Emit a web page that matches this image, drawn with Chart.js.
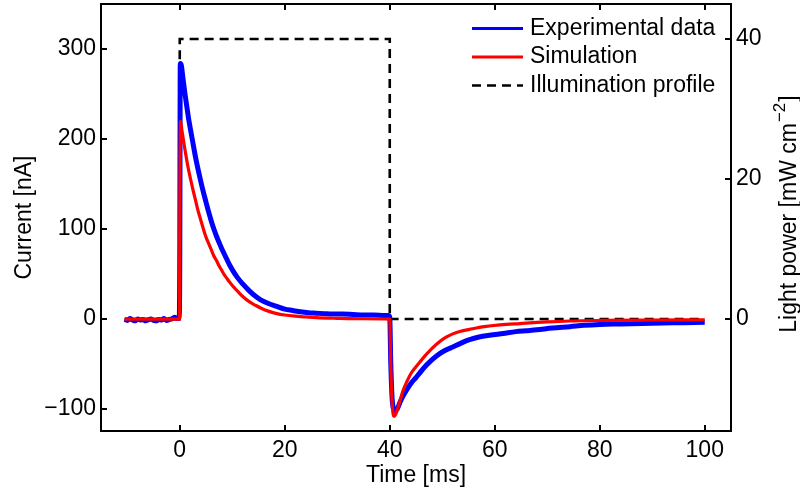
<!DOCTYPE html>
<html><head><meta charset="utf-8">
<script src="https://cdn.jsdelivr.net/npm/chart.js@4.4.0/dist/chart.umd.min.js"></script>
<style>html,body{margin:0;padding:0;background:#fff;}#wrap{width:800px;height:493px;position:relative;}</style>
</head><body><div id="wrap"><canvas id="c" width="800" height="493"></canvas></div>
<script>
// ---- data ----
const expTime = [-10.5,-10,-9.5,-9,-8.5,-8,-7.5,-7,-6.5,-6,-5.5,-5,-4.5,-4,-3.5,-3,-2.5,-2,-1.5,-1,-0.5,-0.1,
  0,0.1,0.3,0.6,1,1.3,1.7,2,2.5,3,3.5,4,4.5,5,5.5,6,6.5,7,7.5,8,8.5,9,9.5,10.2,11,12,13.3,14.5,15.5,17,18.5,20,
  21.5,23,24.5,26,27.5,29,31,33,35,37,39,39.8,
  40,40.2,40.5,41,41.5,42,42.5,43.3,44.1,45,45.7,47,48.9,50.5,52,53.5,55.2,57,59,61.6,64,66,68,71,74.3,77,80,84,88,92,96,100];
const expCurrent = [-0.5,-1.5,0.5,-1,-2,0,-1,-0.5,-2,-1,0,-1.5,-2,-0.5,-1,0.5,-1.5,-0.5,0,2,0.5,1,
  60,284,282,268,250,238,222,212,196,180,166,153,141,130,119,109,100,92,85,78,72,66,60,53,46,39,31,25,21,17,14,11,
  9.5,8,7,6.5,6,5.5,5.5,5,4.5,4.5,4,4,
  2,-50,-92,-102,-99,-92,-86,-78,-71,-65,-60,-51,-41,-35,-31,-27,-23,-20,-18,-16,-14,-13,-12,-10,-8.5,-7,-6,-5.5,-5,-4.5,-4,-3.5];
const simTime = [-10.5,-0.05,0,0.15,0.4,0.8,1.2,1.6,2,2.5,3,3.5,4,4.5,5,5.5,6,6.5,7,7.5,8,8.5,9,9.5,10.2,11,12,13.3,
  14.5,15.5,17,18.5,20,22,24,26,30,35,40,
  40.2,40.5,40.8,41.2,41.8,42.5,43.3,44.1,45,45.7,47,48.9,50.5,52,53.5,55.2,58,61,64.8,70,74.3,80,90,100];
const simCurrent = [0,0,100,220,210,195,181,168,157,144,132,120,110,100,91,84,77,70,65,59,54,49,45,41,36,31,25,19,
  15,12,8.5,6,4.5,3.2,2.3,1.5,0.8,0.3,0,
  -55,-97,-108,-105,-94,-80,-69,-60,-53,-48,-39,-28,-21,-16.5,-13.5,-11.5,-8.5,-6.5,-5,-3.2,-2.2,-1.6,-1.1,-0.8];
const illumTime = [-10.5,0,0,40,40,100];
const illumPower = [0,0,40,40,0,0];
const xTickValues = [0,20,40,60,80,100];
const yTickValues = [-100,0,100,200,300];
const y1TickValues = [0,20,40];
const seriesLabels = ['Experimental data','Simulation','Illumination profile'];
const xTitle = 'Time [ms]';
const yTitle = 'Current [nA]';
const y1TitleMain = 'Light power [mW cm';
const y1TitleSup = '\u22122';

const FONT = '"Liberation Sans", Arial, Helvetica, sans-serif';
const FS = 23;
const colors = ['#0000ff','#ff0000','#000000'];

function pts(xs, ys){ return xs.map((x,i)=>({x:x, y:ys[i]})); }
function fmt(v){ return v < 0 ? '\u2212' + Math.abs(v) : String(v); }
function noPad(s){ s.paddingTop = 0; s.paddingBottom = 0; s.paddingLeft = 0; s.paddingRight = 0; }

const framePlugin = {
  id: 'frame',
  afterDraw(chart){
    const ctx = chart.ctx, a = chart.chartArea;
    const sx = chart.scales.x, sy = chart.scales.y, sy1 = chart.scales.y1;
    ctx.save();
    ctx.strokeStyle = '#000';
    ctx.lineWidth = 2;
    ctx.strokeRect(a.left, a.top, a.right - a.left, a.bottom - a.top);
    const TL = 6;
    ctx.beginPath();
    xTickValues.forEach(v=>{
      const px = Math.round(sx.getPixelForValue(v));
      ctx.moveTo(px, a.bottom); ctx.lineTo(px, a.bottom - TL);
      ctx.moveTo(px, a.top); ctx.lineTo(px, a.top + TL);
    });
    yTickValues.forEach(v=>{
      const py = Math.round(sy.getPixelForValue(v));
      ctx.moveTo(a.left, py); ctx.lineTo(a.left + TL, py);
    });
    y1TickValues.forEach(v=>{
      const py = Math.round(sy1.getPixelForValue(v));
      ctx.moveTo(a.right, py); ctx.lineTo(a.right - TL, py);
    });
    ctx.stroke();

    // legend
    const ly = [28.5, 57, 85.5];
    ctx.font = FS + 'px ' + FONT;
    ctx.textBaseline = 'middle';
    ctx.textAlign = 'left';
    seriesLabels.forEach((lab,i)=>{
      ctx.beginPath();
      ctx.strokeStyle = colors[i];
      ctx.lineWidth = i === 2 ? 2.5 : 3;
      ctx.setLineDash(i === 2 ? [9,6] : []);
      ctx.moveTo(472, ly[i]); ctx.lineTo(523, ly[i]);
      ctx.stroke();
      ctx.setLineDash([]);
      ctx.fillStyle = '#000';
      ctx.fillText(lab, 530, ly[i]);
    });

    // right axis title with superscript
    ctx.save();
    ctx.translate(788, 214);
    ctx.rotate(-Math.PI/2);
    const mainFont = FS + 'px ' + FONT, supFont = Math.round(FS*0.72) + 'px ' + FONT;
    ctx.font = mainFont;
    const w1 = ctx.measureText(y1TitleMain).width;
    const w3 = ctx.measureText(']').width;
    ctx.font = supFont;
    const w2 = ctx.measureText(y1TitleSup).width + 2;
    const total = w1 + w2 + w3;
    let x0 = -total/2;
    ctx.textBaseline = 'alphabetic';
    ctx.fillStyle = '#000';
    ctx.font = mainFont;
    ctx.fillText(y1TitleMain, x0, 8);
    ctx.font = supFont;
    ctx.fillText(y1TitleSup, x0 + w1 + 1, -3);
    ctx.font = mainFont;
    ctx.fillText(']', x0 + w1 + w2, 8);
    ctx.restore();
    ctx.restore();
  }
};

new Chart(document.getElementById('c'), {
  type: 'line',
  data: {
    datasets: [
      { label: seriesLabels[1], data: pts(simTime, simCurrent), yAxisID: 'y',
        borderColor: colors[1], borderWidth: 3.2, pointRadius: 0, cubicInterpolationMode: 'monotone', fill: false },
      { label: seriesLabels[0], data: pts(expTime, expCurrent), yAxisID: 'y',
        borderColor: colors[0], borderWidth: 5, pointRadius: 0, cubicInterpolationMode: 'monotone', fill: false },
      { label: seriesLabels[2], data: pts(illumTime, illumPower), yAxisID: 'y1',
        borderColor: colors[2], borderWidth: 2.6, borderDash: [9,6], pointRadius: 0, tension: 0, fill: false }
    ]
  },
  options: {
    responsive: false,
    devicePixelRatio: 1,
    animation: false,
    layout: { padding: { top: 4, left: 0, right: 0, bottom: 0 } },
    plugins: { legend: { display: false }, tooltip: { enabled: false } },
    scales: {
      x: {
        type: 'linear', min: -15, max: 105, position: 'bottom',
        grid: { display: false, drawTicks: false }, border: { display: false },
        afterBuildTicks: s => { s.ticks = xTickValues.map(v=>({value:v})); },
        afterFit: s => { s.height = 62; noPad(s); },
        ticks: { padding: 6, color: '#000', font: { family: FONT, size: FS }, callback: v => fmt(v), maxRotation: 0 },
        title: { display: true, text: xTitle, color: '#000', font: { family: FONT, size: FS }, padding: { top: 0, bottom: 4 } }
      },
      y: {
        type: 'linear', min: -124.4, max: 350, position: 'left',
        grid: { display: false, drawTicks: false }, border: { display: false },
        afterBuildTicks: s => { s.ticks = yTickValues.map(v=>({value:v})); },
        afterFit: s => { s.width = 101; noPad(s); },
        ticks: { padding: 5, color: '#000', font: { family: FONT, size: FS }, callback: v => fmt(v) },
        title: { display: true, text: yTitle, color: '#000', font: { family: FONT, size: FS }, padding: { top: 11, bottom: 0 } }
      },
      y1: {
        type: 'linear', min: -16, max: 45, position: 'right',
        grid: { display: false, drawTicks: false }, border: { display: false },
        afterBuildTicks: s => { s.ticks = y1TickValues.map(v=>({value:v})); },
        afterFit: s => { s.width = 69; noPad(s); },
        ticks: { padding: 5, color: '#000', font: { family: FONT, size: FS }, callback: v => fmt(v) }
      }
    }
  },
  plugins: [framePlugin]
});
</script></body></html>
